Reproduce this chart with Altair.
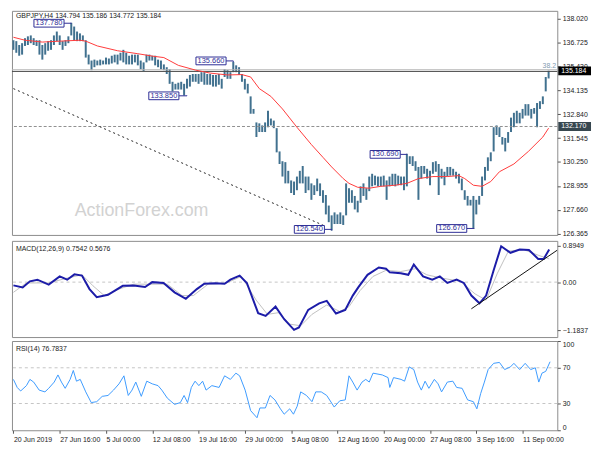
import altair as alt
import pandas as pd

FONT = "Liberation Sans"
W = 550
H_MAIN, H_MACD, H_RSI = 226, 97, 90

title_text = "GBPJPY,H4  134.794 135.186 134.772 135.184"
macd_text = "MACD(12,26,9) 0.7542 0.5676"
rsi_text = "RSI(14) 76.7837"
watermark = "ActionForex.com"

date_labels = ["20 Jun 2019", "27 Jun 16:00", "5 Jul 00:00", "12 Jul 08:00", "19 Jul 16:00",
               "29 Jul 00:00", "5 Aug 08:00", "12 Aug 16:00", "20 Aug 00:00", "27 Aug 08:00",
               "3 Sep 16:00", "11 Sep 00:00"]
date_pos = [0, 16, 32, 48, 64, 80, 96, 112, 128, 144, 160, 176]

price_ticks = [138.020, 136.725, 135.430, 134.135, 132.840, 131.545, 130.250, 128.955, 127.660, 126.365]
macd_ticks = [0.8949, 0.0, -1.1837]
rsi_ticks = [0, 30, 70, 100]

bar_high = [
    136.84, 136.79, 136.58, 136.68, 136.95, 137.05, 137.10, 136.95, 136.84, 136.84,
    136.58, 136.68, 136.79, 136.84, 137.10, 137.31, 137.10, 136.79, 136.84, 137.05,
    137.78, 137.58, 137.31, 137.21, 137.10, 136.84, 136.06, 135.74, 135.79, 135.74,
    135.79, 135.74, 135.90, 135.85, 136.00, 136.06, 136.06, 136.16, 136.32, 136.16,
    136.00, 136.06, 136.06, 136.06, 135.74, 135.64, 136.06, 136.06, 136.00, 136.00,
    135.79, 135.74, 135.53, 135.38, 135.27, 134.59, 134.48, 134.54, 134.59, 134.48,
    134.75, 134.96, 135.01, 135.01, 135.01, 135.11, 135.11, 135.01, 135.01, 134.96,
    134.96, 135.01, 134.75, 135.27, 135.22, 135.11, 135.66, 135.48, 135.38, 135.01,
    134.75, 134.48, 133.80, 133.12, 132.39, 132.34, 132.23, 132.39, 133.02, 132.60,
    132.49, 132.08, 130.82, 130.29, 130.24, 129.77, 129.25, 129.19, 129.46, 129.77,
    130.03, 129.46, 129.46, 129.09, 128.99, 129.35, 129.09, 128.72, 128.46, 127.89,
    127.36, 127.52, 127.41, 127.52, 127.36, 129.09, 128.83, 128.72, 128.41, 128.15,
    128.93, 129.09, 128.83, 129.46, 129.61, 129.51, 129.46, 129.46, 129.51, 129.25,
    129.46, 129.61, 129.61, 129.51, 129.46, 129.46, 130.69, 130.56, 130.56, 130.29,
    129.98, 130.03, 130.03, 129.88, 129.77, 130.24, 130.29, 130.14, 129.88, 129.72,
    129.98, 129.98, 129.88, 129.72, 129.61, 129.35, 128.72, 128.41, 128.20, 128.41,
    128.20, 128.41, 129.46, 129.98, 130.50, 130.77, 132.13, 132.23, 132.13, 131.60,
    131.55, 131.87, 132.65, 132.91, 133.02, 132.91, 133.12, 133.38, 133.38, 133.12,
    133.17, 133.44, 133.54, 133.80, 134.85, 135.19]
bar_low = [
    136.32, 136.16, 136.00, 136.06, 136.53, 136.58, 136.68, 136.58, 136.53, 136.06,
    135.79, 136.06, 136.27, 136.32, 136.58, 136.79, 136.58, 136.32, 136.53, 136.68,
    137.10, 136.84, 136.79, 136.79, 136.79, 135.90, 135.53, 135.22, 135.38, 135.48,
    135.48, 135.53, 135.53, 135.53, 135.58, 135.64, 135.53, 135.74, 135.64, 135.53,
    135.53, 135.53, 135.64, 135.48, 135.27, 135.17, 135.64, 135.74, 135.74, 135.48,
    135.38, 135.27, 135.22, 135.01, 134.48, 134.07, 134.17, 134.17, 134.17, 133.85,
    134.22, 134.33, 134.59, 134.59, 134.48, 134.59, 134.43, 134.43, 134.43, 134.33,
    134.33, 134.43, 134.22, 134.85, 134.75, 134.75, 135.11, 135.11, 134.96, 134.59,
    134.17, 133.96, 132.86, 132.86, 131.60, 131.87, 131.87, 131.87, 132.13, 132.23,
    132.08, 130.77, 130.14, 129.46, 129.09, 129.09, 128.57, 128.46, 128.72, 129.09,
    129.09, 128.57, 128.72, 128.20, 128.46, 128.67, 128.41, 128.04, 127.41, 126.99,
    126.54, 126.89, 126.89, 126.89, 126.84, 127.36, 128.04, 128.04, 127.68, 127.52,
    128.04, 128.41, 128.20, 128.67, 128.93, 128.99, 128.93, 128.93, 128.93, 128.20,
    128.93, 128.99, 128.93, 128.99, 128.99, 128.72, 128.93, 130.14, 130.03, 129.77,
    128.20, 129.35, 129.61, 129.35, 128.99, 129.61, 129.72, 128.46, 129.35, 128.99,
    129.46, 129.51, 129.51, 129.35, 129.09, 128.72, 128.20, 127.89, 127.89, 126.67,
    127.41, 127.94, 128.41, 129.25, 129.77, 130.29, 130.82, 131.71, 131.60, 131.19,
    130.82, 131.29, 131.87, 132.13, 132.34, 132.34, 132.60, 132.76, 132.76, 132.60,
    132.86, 132.13, 133.12, 133.38, 134.07, 134.77]

ma_i = [0, 4, 10, 16, 23, 25, 29, 36, 43, 48, 52, 57, 63, 68, 74, 79, 82, 85, 89, 93, 98,
        103, 107, 110, 114, 116, 119, 123, 127, 132, 136, 140, 145, 150, 154, 156, 159, 162,
        165, 168, 173, 178, 183, 185]
ma_v = [137.00, 136.84, 136.74, 136.79, 136.84, 136.79, 136.53, 136.27, 136.11, 135.98,
        135.90, 135.48, 135.22, 135.06, 134.96, 134.98, 134.85, 134.22, 133.80, 133.12,
        132.13, 131.19, 130.50, 129.98, 129.35, 129.09, 128.88, 128.83, 128.93, 128.99,
        129.09, 129.35, 129.46, 129.46, 129.51, 129.35, 128.99, 128.93, 129.19, 129.72,
        130.14, 130.82, 131.60, 132.08]

macd_i = [0, 3.2, 5.7, 8.3, 12.2, 16, 18.6, 21.1, 23.7, 26.3, 28.8, 32.7, 37.8, 41.6, 45.5,
          48, 51.9, 55.7, 59.6, 63.4, 66, 69.8, 73, 75, 78.2, 80.7, 84.6, 87.2, 90.6, 93.6,
          97, 98.7, 101.9, 105.7, 108.3, 111.5, 114.7, 117.3, 119.2, 122.4, 126.3, 128.8,
          130.1, 133.9, 136.5, 138.4, 141.6, 144.8, 147.4, 150, 153.2, 155.7, 158.3, 161.1,
          163.4, 166, 168.6, 171.8, 175, 178.2, 181.4, 183.3, 185.2]
macd_v = [-0.08, -0.13, 0.02, 0.06, -0.06, 0.14, 0.06, 0.19, 0.16, -0.17, -0.37, -0.31,
          -0.09, -0.08, -0.12, 0.0, -0.02, -0.25, -0.41, -0.17, -0.04, -0.03, -0.04, 0.06,
          0.16, -0.02, -0.76, -0.83, -0.60, -0.91, -1.17, -1.11, -0.68, -0.52, -0.46, -0.77,
          -0.68, -0.33, -0.13, 0.18, 0.36, 0.33, 0.24, 0.22, 0.18, 0.43, 0.14, 0.06, 0.14,
          -0.02, 0.06, -0.02, -0.33, -0.52, -0.33, 0.29, 0.88, 0.72, 0.80, 0.79, 0.57, 0.57,
          0.80]
sig_i = [0, 4.5, 12.2, 18.6, 23.7, 27.5, 31.4, 36.5, 41.6, 46.8, 53.2, 58.3, 62.2, 67.3,
         73.7, 78.8, 83.9, 87.8, 91.6, 95.5, 99.3, 103.2, 108.3, 112.8, 116, 119.8, 124.3,
         128.8, 133.9, 139, 142.9, 148, 154.5, 159.6, 163.4, 167.3, 171.1, 176.3, 181.4, 185.2]
sig_v = [-0.25, -0.02, -0.02, 0.10, 0.18, -0.09, -0.33, -0.17, -0.05, -0.05, -0.05, -0.33,
         -0.33, -0.05, -0.02, 0.14, -0.44, -0.79, -0.75, -1.03, -1.07, -0.79, -0.56, -0.72,
         -0.60, -0.21, 0.14, 0.29, 0.26, 0.33, 0.18, 0.10, 0.02, -0.29, -0.44, 0.22, 0.76,
         0.80, 0.66, 0.57]

rsi_i = [0, 1.3, 2.5, 4.5, 5.7, 7, 8.9, 10.9, 12.2, 14.1, 15.4, 16.6, 17.9, 19.6, 20.7, 21.8,
         23.1, 25, 26.9, 28.8, 30.7, 32.7, 34.6, 36.5, 38.2, 39.7, 41, 42.3, 44.2, 46.1, 48,
         50, 51.3, 53.2, 55.7, 57.7, 59, 60.2, 61.5, 62.8, 64.1, 65.4, 66.6, 68.6, 71.1, 73,
         75, 76.9, 78.2, 80.1, 82, 84.2, 85.2, 87.1, 88.7, 90.4, 92.3, 93.6, 95.5, 96.8, 98.1,
         99.3, 101.3, 103.2, 104.5, 106.4, 108.3, 110.9, 112.8, 114.7, 116, 117.3, 118.8,
         120.5, 121.8, 123, 124.3, 127.5, 129.5, 130.1, 131.4, 134, 135.2, 136.8, 138.4,
         139.7, 141, 142.3, 143.6, 145.5, 146.8, 148, 150, 151.9, 153.2, 155.1, 157, 159,
         160.2, 161.5, 162.8, 164.1, 166, 168, 169.8, 171.8, 173, 175, 176.9, 178.8, 180.4,
         181.6, 182.7, 184, 185.5]
rsi_v = [57, 48, 44, 50, 57, 54, 45, 43, 47, 54, 62, 54, 47, 57, 67, 55,
         57, 43, 31, 32, 38, 39, 45, 52, 61, 39, 45, 54, 38, 55, 52,
         50, 45, 36, 29, 31, 39, 31, 48, 55, 50, 55, 45, 50, 48, 61,
         57, 64, 61, 45, 22, 14, 25, 25, 39, 34, 24, 18, 24, 18, 27,
         43, 39, 32, 43, 43, 39, 26, 33, 34, 61, 54, 45,
         54, 57, 54, 64, 62, 59, 48, 59, 57, 55, 71, 68,
         54, 45, 55, 47, 57, 52, 43, 54, 55, 48, 47, 34, 32,
         24, 41, 54, 68, 75, 76, 68, 71, 75, 68, 75, 68, 70,
         54, 64, 66, 76.8]

box_text = ["137.780", "135.660", "133.850", "126.540", "130.690", "126.670"]
box_anchor_i = [20, 76, 60, 110, 136, 159.3]
box_anchor_p = [137.78, 135.66, 133.85, 126.54, 130.69, 126.67]
box_center_i = [12.3, 68.3, 52, 102.3, 128.5, 151.5]
box_center_p = [137.76, 135.72, 133.83, 126.60, 130.66, 126.65]

trend_i = [0, 107.7]
trend_p = [134.22, 126.78]
macd_trend_i = [158.3, 188]
macd_trend_v = [-0.654, 0.785]

current_price = 135.184
support_price = 132.170
fib_line = 135.15
bid_line = 135.24

# ---------------------------------------------------------------- scales / axes
xsc = alt.Scale(domain=[-0.5, 188], nice=False, zero=False)
psc = alt.Scale(domain=[126.30, 138.43], nice=False, zero=False)
msc = alt.Scale(domain=[-1.347, 1.012], nice=False, zero=False)
rsc = alt.Scale(domain=[0, 100], nice=False, zero=False)

axis_common = dict(title=None, grid=False, domain=False, tickSize=3, tickColor="#555555",
                   labelFontSize=7, labelFont=FONT, labelColor="#1a1a1a", labelPadding=2,
                   labelOverlap=False)
price_axis = alt.Axis(orient="right", values=price_ticks, format=".3f", **axis_common)
macd_axis = alt.Axis(orient="right", values=macd_ticks,
                     labelExpr="datum.value == 0 ? '0.00' : format(datum.value, '.4f')",
                     **axis_common)
rsi_axis = alt.Axis(orient="right", values=rsi_ticks, format="d", labelFlush=True, **axis_common)
labels_js = "[" + ",".join("'%s'" % s for s in date_labels) + "]"
pos_js = "[" + ",".join(str(p) for p in date_pos) + "]"
x_axis = alt.Axis(values=date_pos, labelExpr=labels_js + "[indexof(" + pos_js + ", datum.value)]",
                  labelAlign="left", labelFlush=False, **axis_common)


def X(field, axis=None):
    return alt.X(field, type="quantitative", scale=xsc, axis=axis)


def Yp(field):
    return alt.Y(field, type="quantitative", scale=psc, axis=price_axis)


def Ym(field):
    return alt.Y(field, type="quantitative", scale=msc, axis=macd_axis)


def Yr(field):
    return alt.Y(field, type="quantitative", scale=rsc, axis=rsi_axis)


# ---------------------------------------------------------------- main panel
bars_df = pd.DataFrame({"i": list(range(len(bar_high))), "high": bar_high, "low": bar_low})
ma_df = pd.DataFrame({"i": ma_i, "v": ma_v})

bars = alt.Chart(bars_df).mark_rule(color="#41718f", strokeWidth=2).encode(
    x=X("i"), y=Yp("low"), y2="high:Q")
ma = alt.Chart(ma_df).mark_line(color="#ff3b3b", strokeWidth=1).encode(x=X("i"), y=Yp("v"))

sup = alt.Chart(pd.DataFrame({"p": [support_price]})).mark_rule(
    color="#8f8f8f", strokeDash=[3, 2], strokeWidth=1).encode(y=Yp("p"))
bidl = alt.Chart(pd.DataFrame({"p": [bid_line]})).mark_rule(
    color="#b4b4b4", strokeWidth=1).encode(y=Yp("p"))
fibl = alt.Chart(pd.DataFrame({"p": [fib_line]})).mark_rule(
    color="#4d4d4d", strokeWidth=1).encode(y=Yp("p"))

trend = alt.Chart(pd.DataFrame({"i": trend_i, "p": trend_p})).mark_line(
    color="#222222", strokeDash=[2, 3], strokeWidth=1).encode(x=X("i"), y=Yp("p"))

bdf = pd.DataFrame({"t": box_text, "ai": box_anchor_i, "ap": box_anchor_p,
                    "ci": box_center_i, "cp": box_center_p})
bdf["x1"] = bdf["ci"] - 5.2
bdf["x2"] = bdf["ci"] + 5.2
bdf["y1"] = bdf["cp"] - 0.21
bdf["y2"] = bdf["cp"] + 0.21
BOXC = "#2e2e96"
conn_h = alt.Chart(bdf).mark_rule(color=BOXC, strokeWidth=1).encode(
    x=X("x2"), x2="ai:Q", y=Yp("cp"))
conn_v = alt.Chart(bdf).mark_rule(color=BOXC, strokeWidth=1).encode(
    x=X("ai"), y=Yp("cp"), y2="ap:Q")
box_r = alt.Chart(bdf).mark_rect(fill="white", stroke=BOXC, strokeWidth=1).encode(
    x=X("x1"), x2="x2:Q", y=Yp("y1"), y2="y2:Q")
box_t = alt.Chart(bdf).mark_text(font=FONT, fontSize=7.5, color=BOXC).encode(
    x=X("ci"), y=Yp("cp"), text="t:N")

wm = alt.Chart(pd.DataFrame({"t": [watermark], "i": [44.3], "p": [127.59]})).mark_text(
    font=FONT, fontSize=18, color="#d2d2d2").encode(x=X("i"), y=Yp("p"), text="t:N")

ttl = alt.Chart(pd.DataFrame({"t": [title_text]})).mark_text(
    font=FONT, fontSize=7, color="#222222", align="left", baseline="middle").encode(
    x=alt.value(4), y=alt.value(5), text="t:N")

fib_t = alt.Chart(pd.DataFrame({"t": ["38.2"], "i": [187.6], "p": [135.26]})).mark_text(
    font=FONT, fontSize=7, color="#7f9bb0", align="right", baseline="bottom").encode(
    x=X("i"), y=Yp("p"), text="t:N")

tags_df = pd.DataFrame({"t": ["135.184", "132.170"], "p": [current_price, support_price],
                        "c": ["#000000", "#37474f"]})
tags_df["y1"] = tags_df["p"] - 0.24
tags_df["y2"] = tags_df["p"] + 0.24
tag_r = alt.Chart(tags_df).mark_rect().encode(
    x=alt.value(W + 1), x2=alt.value(W + 34), y=Yp("y1"), y2="y2:Q",
    fill=alt.Fill("c:N", scale=None))
tag_t = alt.Chart(tags_df).mark_text(font=FONT, fontSize=7, color="white", align="left",
                                     baseline="middle").encode(
    x=alt.value(W + 4), y=Yp("p"), text="t:N")

main = alt.layer(bars, wm, sup, bidl, fibl, trend, ma, conn_h, conn_v, box_r, box_t,
                 ttl, fib_t, tag_r, tag_t).properties(width=W, height=H_MAIN)

# ---------------------------------------------------------------- MACD panel
mz = alt.Chart(pd.DataFrame({"v": [0.0]})).mark_rule(
    color="#c4c4c4", strokeDash=[3, 3], strokeWidth=1).encode(y=Ym("v"))
msig = alt.Chart(pd.DataFrame({"i": sig_i, "v": sig_v})).mark_line(
    color="#c0c0c0", strokeWidth=1).encode(x=X("i"), y=Ym("v"))
mmain = alt.Chart(pd.DataFrame({"i": macd_i, "v": macd_v})).mark_line(
    color="#1c1ca8", strokeWidth=2).encode(x=X("i"), y=Ym("v"))
mtr = alt.Chart(pd.DataFrame({"i": macd_trend_i, "v": macd_trend_v})).mark_line(
    color="#111111", strokeWidth=1, clip=True).encode(x=X("i"), y=Ym("v"))
mlab = alt.Chart(pd.DataFrame({"t": [macd_text]})).mark_text(
    font=FONT, fontSize=7, color="#222222", align="left", baseline="middle").encode(
    x=alt.value(4), y=alt.value(8), text="t:N")
macd = alt.layer(mz, msig, mmain, mtr, mlab).properties(width=W, height=H_MACD)

# ---------------------------------------------------------------- RSI panel
rl = alt.Chart(pd.DataFrame({"v": [70, 30]})).mark_rule(
    color="#c4c4c4", strokeDash=[3, 3], strokeWidth=1).encode(y=Yr("v"))
rline = alt.Chart(pd.DataFrame({"i": rsi_i, "v": rsi_v})).mark_line(
    color="#3d9bff", strokeWidth=1).encode(x=X("i", axis=x_axis), y=Yr("v"))
rlab = alt.Chart(pd.DataFrame({"t": [rsi_text]})).mark_text(
    font=FONT, fontSize=7, color="#222222", align="left", baseline="middle").encode(
    x=alt.value(4), y=alt.value(8), text="t:N")
rsi = alt.layer(rl, rline, rlab).properties(width=W, height=H_RSI)

chart = alt.vconcat(main, macd, rsi, spacing=2, padding=0, background="white").configure_view(
    stroke="#8c8c8c", strokeWidth=1)

chart.save("out.html", embed_options={"renderer": "svg", "actions": False})
